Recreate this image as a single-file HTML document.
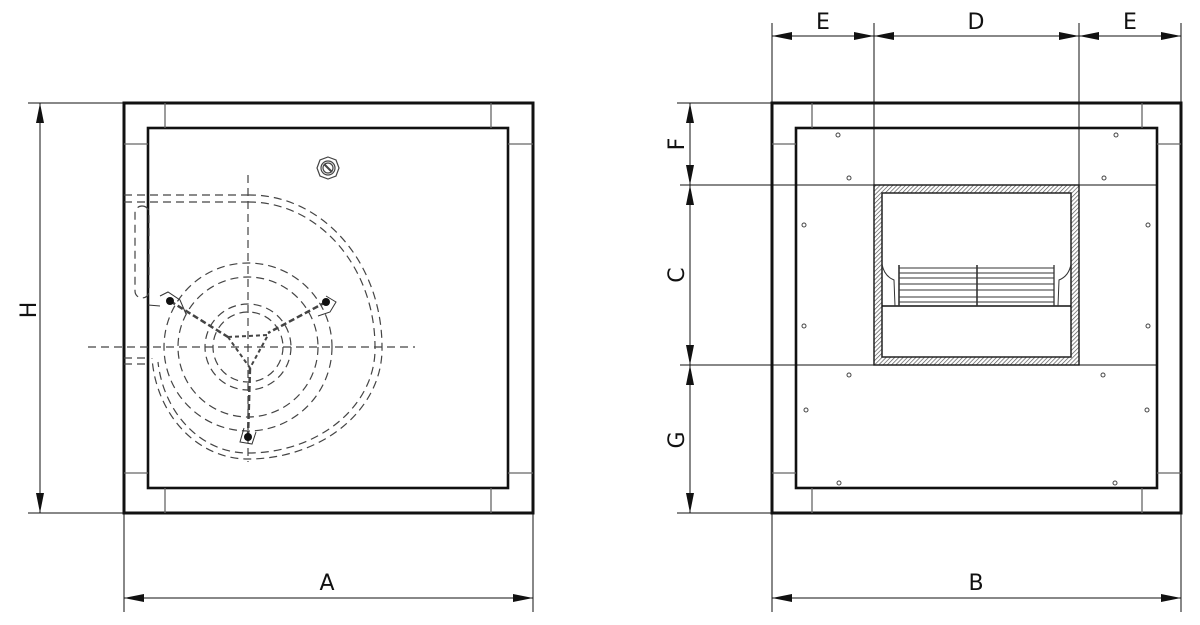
<!DOCTYPE html>
<html><head><meta charset="utf-8"><style>
html,body{margin:0;padding:0;background:#fff;width:1200px;height:625px;overflow:hidden}
svg{display:block}
text{font-family:"DejaVu Sans","Liberation Sans",sans-serif;font-size:22px;fill:#111}
</style></head><body>
<svg width="1200" height="625" viewBox="0 0 1200 625" xmlns="http://www.w3.org/2000/svg">
<defs>
<pattern id="h" width="3" height="3" patternUnits="userSpaceOnUse" patternTransform="rotate(45)">
<rect width="3" height="3" fill="#fff"/><line x1="0" y1="0" x2="0" y2="3" stroke="#555" stroke-width="1.4"/></pattern>
<marker id="a" viewBox="0 0 20 8" refX="20" refY="4" markerWidth="20" markerHeight="8" markerUnits="userSpaceOnUse" orient="auto-start-reverse"><path d="M0,0 L20,4 L0,8z" fill="#111"/></marker>
</defs>

<!-- LEFT VIEW -->
<g fill="none" stroke="#111">
<rect x="124" y="103" width="409" height="410" stroke-width="3"/>
<rect x="148" y="128" width="360" height="360" stroke-width="2.6"/>
<g stroke="#666" stroke-width="1.3">
<line x1="165" y1="103" x2="165" y2="128"/><line x1="491" y1="103" x2="491" y2="128"/>
<line x1="165" y1="488" x2="165" y2="513"/><line x1="491" y1="488" x2="491" y2="513"/>
<line x1="124" y1="144" x2="148" y2="144"/><line x1="124" y1="473" x2="148" y2="473"/>
<line x1="508" y1="144" x2="533" y2="144"/><line x1="508" y1="473" x2="533" y2="473"/>
</g>
<!-- dims -->
<g stroke-width="1">
<line x1="28" y1="103" x2="124" y2="103"/><line x1="28" y1="513" x2="124" y2="513"/>
<line x1="40" y1="103" x2="40" y2="513" marker-start="url(#a)" marker-end="url(#a)"/>
<line x1="124" y1="513" x2="124" y2="612"/><line x1="533" y1="513" x2="533" y2="612"/>
<line x1="124" y1="598" x2="533" y2="598" marker-start="url(#a)" marker-end="url(#a)"/>
</g>
<!-- fan dashed -->
<g stroke="#444" stroke-width="1.2" stroke-dasharray="8,5">
<line x1="248" y1="175" x2="248" y2="462"/>
<line x1="88" y1="347" x2="415" y2="347"/>
<line x1="124" y1="195" x2="248" y2="195"/>
<line x1="124" y1="202" x2="248" y2="202"/>
<line x1="124" y1="358" x2="150" y2="358"/>
<line x1="124" y1="364" x2="150" y2="364"/>
<path d="M248,195 A132,152 0 0 1 382,347 A134,110 0 0 1 248,459 A96,110 0 0 1 152,358"/>
<path d="M248,202 A126,145 0 0 1 375,347 A127,104 0 0 1 248,453 A90,104 0 0 1 158,362"/>
<circle cx="248" cy="347" r="35"/><circle cx="248" cy="347" r="43"/>
<circle cx="248" cy="347" r="70"/><circle cx="248" cy="347" r="84"/>
<rect x="135" y="206" width="14" height="92" rx="7"/>
<path d="M170,301 L228,337 M326,302 L268,333 M248,437 L250,368" stroke-width="2.5" stroke-dasharray="6,3"/>
<path d="M228,337 L268,335 L250,368 Z" stroke-width="2" stroke-dasharray="4,3"/>
</g>
<g stroke="#333" stroke-width="1">
<path d="M160,296 L168,292 L180,300 L186,314 M326,296 L336,302 L330,312 L318,316 M244,428 L240,442 L252,444 L256,432"/>
<line x1="148" y1="305" x2="160" y2="306"/>
</g>
<g fill="#111" stroke="none"><circle cx="170" cy="301" r="4"/><circle cx="326" cy="302" r="4"/><circle cx="248" cy="437" r="4"/></g>
<g stroke="#444" stroke-width="1.2">
<polygon points="328,157 336,160 339,168 336,176 328,179 320,176 317,168 320,160"/>
<circle cx="328" cy="168" r="7"/><circle cx="328" cy="168" r="5"/>
<line x1="324" y1="164" x2="332" y2="172" stroke-width="2"/>
</g>
</g>
<text x="30" y="310" transform="rotate(-90 30 310)" text-anchor="middle" dominant-baseline="middle">H</text>
<text x="327" y="590" text-anchor="middle">A</text>

<!-- RIGHT VIEW -->
<g fill="none" stroke="#111">
<line x1="680" y1="185" x2="1157" y2="185" stroke-width="1"/>
<line x1="680" y1="365" x2="1157" y2="365" stroke-width="1"/>
<line x1="874" y1="23" x2="874" y2="185" stroke-width="1"/>
<line x1="1079" y1="23" x2="1079" y2="185" stroke-width="1"/>
<rect x="772" y="103" width="409" height="410" stroke-width="3"/>
<rect x="796" y="128" width="361" height="360" stroke-width="2.6"/>
<g stroke="#666" stroke-width="1.3">
<line x1="812" y1="103" x2="812" y2="128"/><line x1="1142" y1="103" x2="1142" y2="128"/>
<line x1="812" y1="488" x2="812" y2="513"/><line x1="1142" y1="488" x2="1142" y2="513"/>
<line x1="772" y1="144" x2="796" y2="144"/><line x1="772" y1="473" x2="796" y2="473"/>
<line x1="1157" y1="144" x2="1181" y2="144"/><line x1="1157" y1="473" x2="1181" y2="473"/>
</g>
<path d="M874,185 H1079 V365 H874 Z M882,193 V357 H1071 V193 Z" fill="url(#h)" fill-rule="evenodd" stroke="#222" stroke-width="1.5"/>
<line x1="882" y1="306" x2="1071" y2="306" stroke-width="1.5"/>
<g stroke="#333" stroke-width="1">
<path d="M882,264 Q884,276 894,280 L895,306 M1071,264 Q1069,276 1059,280 L1058,306"/>
<line x1="899" y1="265" x2="899" y2="306" stroke-width="1.6"/><line x1="977" y1="265" x2="977" y2="306" stroke-width="1.6"/>
<line x1="1054" y1="265" x2="1054" y2="306" stroke-width="1.3"/>
<line x1="899" y1="268" x2="1054" y2="268"/><line x1="899" y1="273" x2="1054" y2="273"/>
<line x1="899" y1="278" x2="1054" y2="278"/><line x1="899" y1="284" x2="1054" y2="284"/>
<line x1="899" y1="290" x2="1054" y2="290"/><line x1="899" y1="297" x2="1054" y2="297"/>
<line x1="899" y1="302" x2="1054" y2="302"/>
</g>
<g stroke="#444" stroke-width="1">
<circle cx="838" cy="135" r="2"/><circle cx="849" cy="178" r="2"/>
<circle cx="1116" cy="135" r="2"/><circle cx="1104" cy="178" r="2"/>
<circle cx="804" cy="225" r="2"/><circle cx="1148" cy="225" r="2"/>
<circle cx="804" cy="326" r="2"/><circle cx="1148" cy="326" r="2"/>
<circle cx="849" cy="375" r="2"/><circle cx="1103" cy="375" r="2"/>
<circle cx="806" cy="410" r="2"/><circle cx="1147" cy="410" r="2"/>
<circle cx="839" cy="483" r="2"/><circle cx="1115" cy="483" r="2"/>
</g>
<g stroke-width="1">
<line x1="772" y1="23" x2="772" y2="103"/><line x1="1181" y1="23" x2="1181" y2="103"/>
<line x1="772" y1="36" x2="874" y2="36" marker-start="url(#a)" marker-end="url(#a)"/>
<line x1="874" y1="36" x2="1079" y2="36" marker-start="url(#a)" marker-end="url(#a)"/>
<line x1="1079" y1="36" x2="1181" y2="36" marker-start="url(#a)" marker-end="url(#a)"/>
<line x1="677" y1="103" x2="772" y2="103"/><line x1="677" y1="513" x2="772" y2="513"/>
<line x1="690" y1="103" x2="690" y2="185" marker-start="url(#a)" marker-end="url(#a)"/>
<line x1="690" y1="185" x2="690" y2="365" marker-start="url(#a)" marker-end="url(#a)"/>
<line x1="690" y1="365" x2="690" y2="513" marker-start="url(#a)" marker-end="url(#a)"/>
<line x1="772" y1="513" x2="772" y2="612"/><line x1="1181" y1="513" x2="1181" y2="612"/>
<line x1="772" y1="598" x2="1181" y2="598" marker-start="url(#a)" marker-end="url(#a)"/>
</g>
</g>
<text x="823" y="29" text-anchor="middle">E</text>
<text x="976" y="29" text-anchor="middle">D</text>
<text x="1130" y="29" text-anchor="middle">E</text>
<text x="976" y="590" text-anchor="middle">B</text>
<text x="678" y="144" transform="rotate(-90 678 144)" text-anchor="middle" dominant-baseline="middle">F</text>
<text x="678" y="275" transform="rotate(-90 678 275)" text-anchor="middle" dominant-baseline="middle">C</text>
<text x="678" y="440" transform="rotate(-90 678 440)" text-anchor="middle" dominant-baseline="middle">G</text>
</svg>
</body></html>
